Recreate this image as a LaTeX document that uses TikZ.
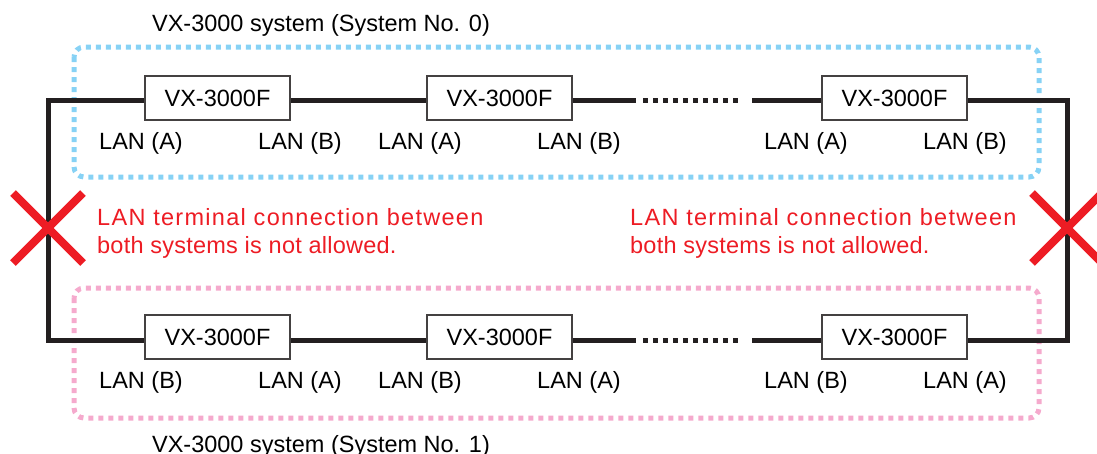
\documentclass[tikz,border=0pt]{standalone}
\usepackage{fontspec}
\setmainfont{Liberation Sans}
\usetikzlibrary{positioning}

\definecolor{cablec}{RGB}{35,31,32}
\definecolor{sysblue}{RGB}{135,210,245}
\definecolor{syspink}{RGB}{245,170,205}
\definecolor{warnred}{RGB}{237,28,36}

\newcommand{\wide}[2]{{\addfontfeatures{LetterSpace=#1}#2}}

\begin{document}
\begin{tikzpicture}[x=1pt, y=-1pt,
	txt/.style={font=\fontsize{23.5}{28}\selectfont, inner sep=0pt},
	unit/.style={txt, draw=cablec!85, line width=1.3pt, fill=white, minimum width=145pt, minimum height=44pt},
	cable/.style={draw=cablec, line width=5pt},
	gapline/.style={draw=cablec, line width=5pt, dash pattern=on 5pt off 5pt},
	sysbox/.style={line width=5pt, dash pattern=on 5pt off 5pt, rounded corners=10pt},
	warn/.style={txt, text=warnred, align=left, anchor=west},
	cross/.style={draw=warnred, line width=8pt}]
	\useasboundingbox (0,0) rectangle (1097,453);

	% system frames
	\draw[sysbox, sysblue] (74,47) rectangle (1039,177);
	\draw[sysbox, syspink] (74,288) rectangle (1039,418);
	\node[txt] (title0) at (321,25) {VX-3000 system (System No. 0)};
	\node[txt] (title1) at (321,446) {VX-3000 system (System No. 1)};

	% units of system 0
	\node[unit] (a1) at (217.5,98) {VX-3000F};
	\node[unit] (a2) at (499.5,98) {VX-3000F};
	\node[unit] (a3) at (894.5,98) {VX-3000F};
	% units of system 1
	\node[unit] (b1) at (217.5,337) {VX-3000F};
	\node[unit] (b2) at (499.5,337) {VX-3000F};
	\node[unit] (b3) at (894.5,337) {VX-3000F};

	% ports
	\node[txt] (a1l) at (141,143) {LAN (A)};
	\node[txt] (a1r) at (300,143) {LAN (B)};
	\node[txt] (a2l) at (420,143) {LAN (A)};
	\node[txt] (a2r) at (579,143) {LAN (B)};
	\node[txt] (a3l) at (806,143) {LAN (A)};
	\node[txt] (a3r) at (965,143) {LAN (B)};
	\node[txt] (b1l) at (141,382) {LAN (B)};
	\node[txt] (b1r) at (300,382) {LAN (A)};
	\node[txt] (b2l) at (420,382) {LAN (B)};
	\node[txt] (b2r) at (579,382) {LAN (A)};
	\node[txt] (b3l) at (806,382) {LAN (B)};
	\node[txt] (b3r) at (965,382) {LAN (A)};

	% cables
	\coordinate (lt) at (48,100);
	\coordinate (lb) at (48,340);
	\coordinate (rt) at (1067,100);
	\coordinate (rb) at (1067,340);
	\coordinate (am) at (636,100);
	\coordinate (an) at (752,100);
	\coordinate (bm) at (636,340);
	\coordinate (bn) at (752,340);
	\draw[cable] (a1.west |- lt) -- (lt) -- (lb) -- (b1.west |- lb);
	\draw[cable] (a3.east |- rt) -- (rt) -- (rb) -- (b3.east |- rb);
	\draw[cable] (a1.east |- lt) -- (a2.west |- lt);
	\draw[cable] (b1.east |- lb) -- (b2.west |- lb);
	\draw[cable] (a2.east |- lt) -- (am);
	\draw[cable] (an) -- (a3.west |- lt);
	\draw[cable] (b2.east |- lb) -- (bm);
	\draw[cable] (bn) -- (b3.west |- lb);
	\draw[gapline] ([xshift=7pt]am) -- ([xshift=-12pt]an);
	\draw[gapline] ([xshift=7pt]bm) -- ([xshift=-12pt]bn);

	% not allowed
	\draw[cross] (13,193) -- (83,263) (13,263) -- (83,193);
	\draw[cross] (1032,193) -- (1102,263) (1032,263) -- (1102,193);
	\node[warn] (w0) at (97,233) {\wide{5.5}{LAN terminal connection between}\\\wide{1}{both systems is not allowed.}};
	\node[warn] (w1) at (630,233) {\wide{5.5}{LAN terminal connection between}\\\wide{1}{both systems is not allowed.}};
\end{tikzpicture}
\end{document}
